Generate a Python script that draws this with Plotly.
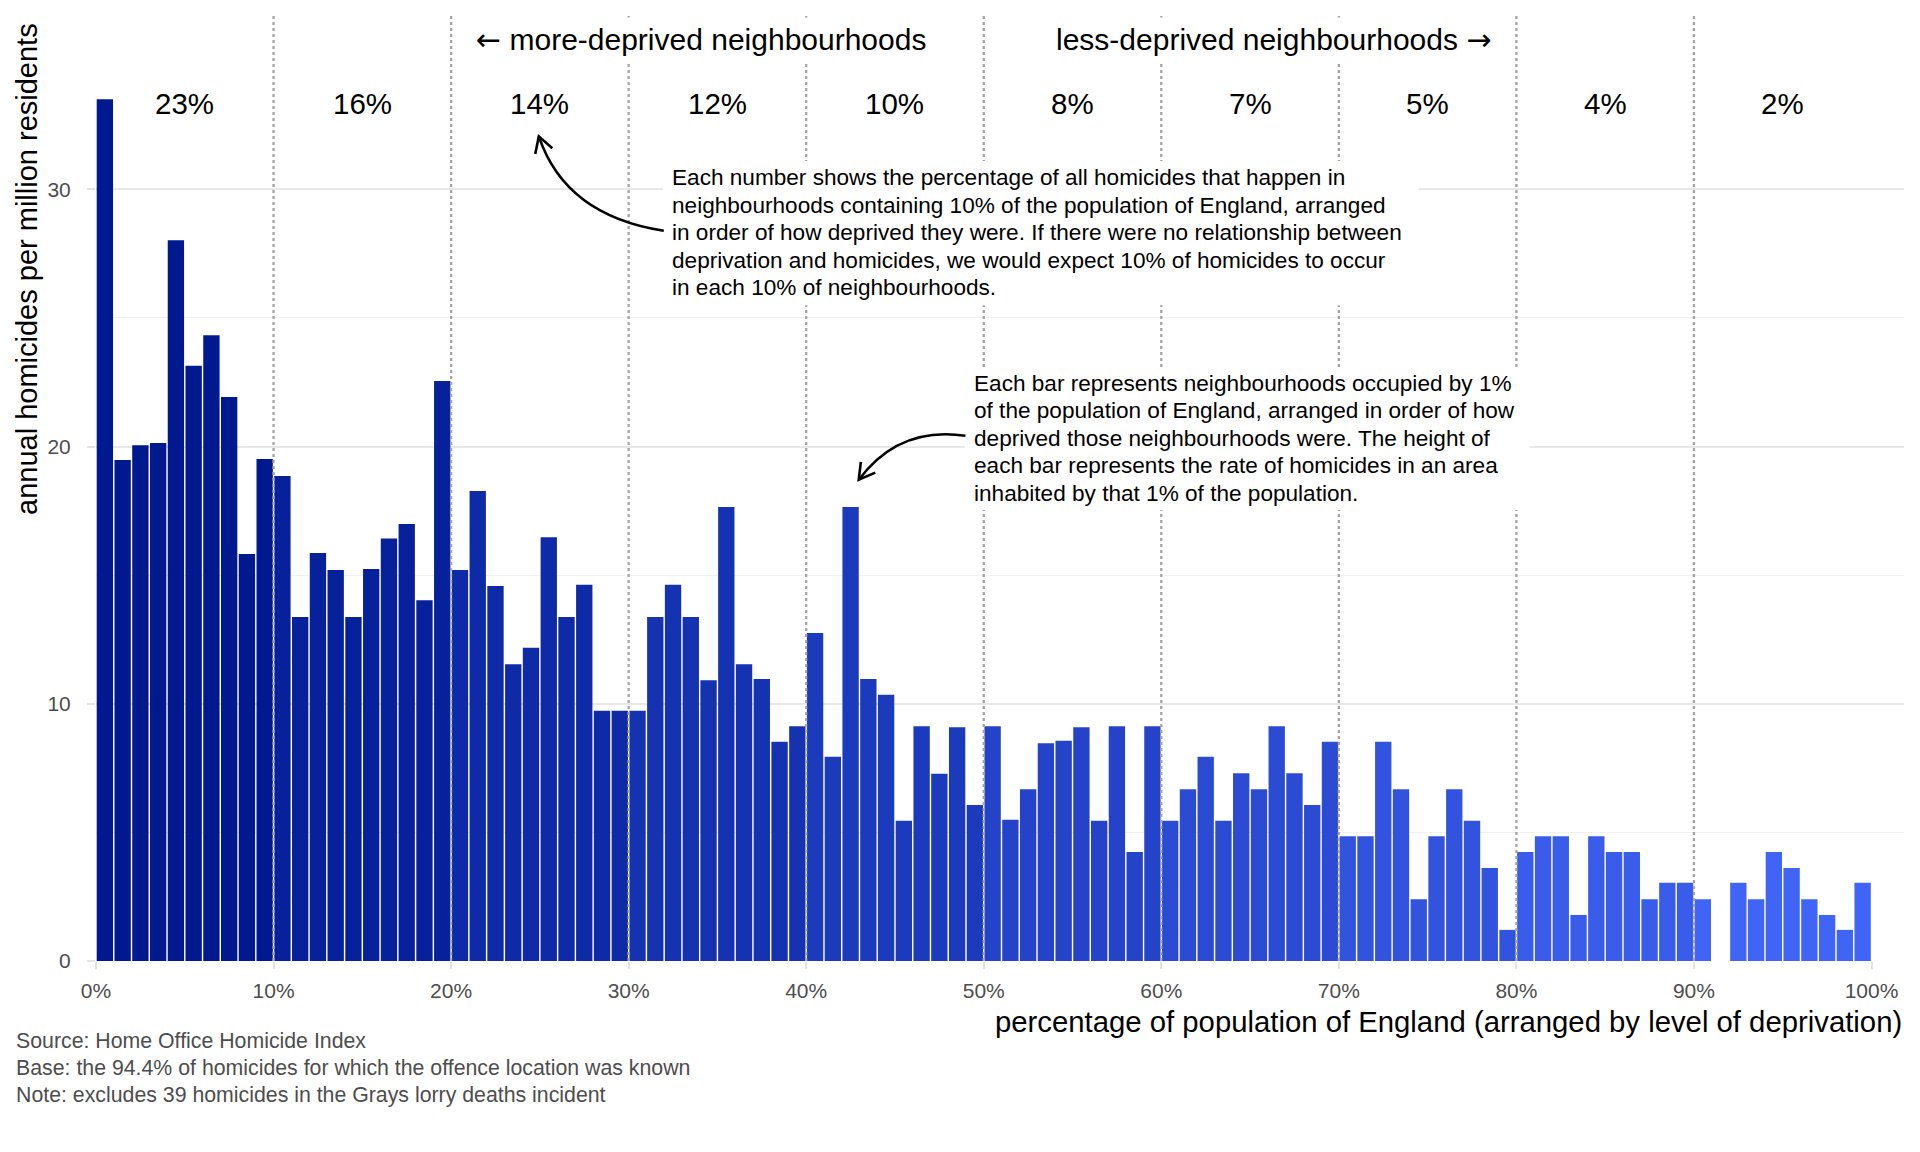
import math
import plotly.graph_objects as go

# ---------------- data ----------------
population_pct = list(range(1, 101))  # each bar = 1% of population, ordered by deprivation
homicide_rate = [
    33.5, 19.48, 20.05, 20.14, 28.02, 23.14, 24.33, 21.93, 15.82, 19.52,
    18.86, 13.37, 15.86, 15.2, 13.37, 15.24, 16.43, 16.99, 14.03, 22.55,
    15.2, 18.27, 14.58, 11.54, 12.18, 16.48, 13.37, 14.63, 9.73, 9.73,
    9.73, 13.37, 14.63, 13.37, 10.92, 17.65, 11.54, 10.96, 8.52, 9.13,
    12.75, 7.94, 17.65, 10.96, 10.35, 5.45, 9.13, 7.28, 9.09, 6.07,
    9.13, 5.49, 6.68, 8.47, 8.56, 9.09, 5.45, 9.13, 4.24, 9.13,
    5.45, 6.68, 7.94, 5.45, 7.3, 6.68, 9.13, 7.3, 6.07, 8.52,
    4.85, 4.85, 8.52, 6.68, 2.40, 4.85, 6.68, 5.45, 3.62, 1.21,
    4.24, 4.85, 4.85, 1.79, 4.85, 4.24, 4.24, 2.40, 3.04, 3.04,
    2.40, 0.0, 3.04, 2.40, 4.24, 3.62, 2.40, 1.79, 1.21, 3.04,
]
decile_upper = [10, 20, 30, 40, 50, 60, 70, 80, 90, 100]
decile_share_pct = [23, 16, 14, 12, 10, 8, 7, 5, 4, 2]
x_tick_vals = [0, 10, 20, 30, 40, 50, 60, 70, 80, 90, 100]
x_tick_text = ["0%", "10%", "20%", "30%", "40%", "50%", "60%", "70%", "80%", "90%", "100%"]
y_tick_vals = [0, 10, 20, 30]
y_minor_vals = [5, 15, 25]

note1_lines = [
    "Each number shows the percentage of all homicides that happen in",
    "neighbourhoods containing 10% of the population of England, arranged",
    "in order of how deprived they were. If there were no relationship between",
    "deprivation and homicides, we would expect 10% of homicides to occur",
    "in each 10% of neighbourhoods.",
]
note2_lines = [
    "Each bar represents neighbourhoods occupied by 1%",
    "of the population of England, arranged in order of how",
    "deprived those neighbourhoods were. The height of",
    "each bar represents the rate of homicides in an area",
    "inhabited by that 1% of the population.",
]
caption_lines = [
    "Source: Home Office Homicide Index",
    "Base: the 94.4% of homicides for which the offence location was known",
    "Note: excludes 39 homicides in the Grays lorry deaths incident",
]

# ---------------- layout geometry ----------------
W, H = 1920, 1152
ML, MR, MT, MB = 96, 16, 15, 191
XMAX, YMAX = 101.83, 36.78
SX = (W - ML - MR) / XMAX   # px per x unit
SY = (H - MT - MB) / YMAX   # px per y unit

FONT = "Liberation Sans, Arial, Helvetica, sans-serif"
ARROW_SPAN = "<span style=\"font-family:'DejaVu Sans'\">{}</span>"

dark = (0, 25, 143)
light = (64, 100, 245)
def decile_color(k):
    t = k / 9
    r, g, b = (round(dark[i] + (light[i] - dark[i]) * t) for i in range(3))
    return f"rgb({r},{g},{b})"
colors = [decile_color((p - 1) // 10) for p in population_pct]

fig = go.Figure()
fig.add_trace(go.Bar(
    x=[p - 0.5 for p in population_pct],
    y=homicide_rate,
    width=0.92,
    marker=dict(color=colors, line=dict(width=0)),
    showlegend=False,
    hoverinfo="skip",
))

shapes = []
# dotted decile separators
for xv in decile_upper[:-1]:
    shapes.append(dict(type="line", xref="x", yref="paper", x0=xv, x1=xv, y0=0, y1=1,
                       line=dict(color="#a4a4a4", width=2.3, dash="3px,3px"), layer="above"))

# white label boxes for the two notes (cover grid and dotted lines)
NOTE1_BOX = (31.93, 74.5, 25.5, 31.1)
NOTE2_BOX = (48.94, 80.77, 17.53, 23.06)
for bx0, bx1, by0, by1 in (NOTE1_BOX, NOTE2_BOX):
    shapes.append(dict(type="rect", xref="x", yref="y", x0=bx0, x1=bx1, y0=by0, y1=by1,
                       fillcolor="white", line=dict(width=0), layer="above"))

# curved arrows (quadratic bezier) + open arrowheads
def curved_arrow(S, C, T, head_len=18, half_angle=30):
    path = f"M{S[0]},{S[1]} Q{C[0]},{C[1]} {T[0]},{T[1]}"
    dx = (T[0] - C[0]) * SX
    dy = (T[1] - C[1]) * SY
    n = math.hypot(dx, dy)
    ux, uy = -dx / n, -dy / n
    wings = []
    for sgn in (1, -1):
        a = math.radians(half_angle) * sgn
        wx = ux * math.cos(a) - uy * math.sin(a)
        wy = ux * math.sin(a) + uy * math.cos(a)
        wings.append((T[0] + wx * head_len / SX, T[1] + wy * head_len / SY))
    head = f"M{wings[0][0]},{wings[0][1]} L{T[0]},{T[1]} L{wings[1][0]},{wings[1][1]}"
    line = dict(color="black", width=2.6)
    return [dict(type="path", xref="x", yref="y", path=path, line=line, layer="above"),
            dict(type="path", xref="x", yref="y", path=head, line=line, layer="above")]

shapes += curved_arrow((31.98, 28.39), (26.44, 28.98), (24.94, 32.06))
shapes += curved_arrow((48.97, 20.42), (45.22, 20.81), (42.96, 18.71))

annotations = []
# decile share labels
for up, share in zip(decile_upper, decile_share_pct):
    annotations.append(dict(x=up - 5, y=33.33, xref="x", yref="y", text=f"{share}%",
                            showarrow=False, font=dict(family=FONT, size=29.5, color="black")))

annotations.append(dict(x=47.05, y=35.82, xref="x", yref="y",
                        text=ARROW_SPAN.format("←") + " more-deprived neighbourhoods",
                        xanchor="right", showarrow=False, bgcolor="white", borderpad=4,
                        font=dict(family=FONT, size=30, color="black")))
annotations.append(dict(x=53.8, y=35.82, xref="x", yref="y",
                        text="less-deprived neighbourhoods " + ARROW_SPAN.format("→"),
                        xanchor="left", showarrow=False, bgcolor="white", borderpad=4,
                        font=dict(family=FONT, size=30, color="black")))

# note texts, one annotation per line
LINE_STEP = 27.55 / SY
for lines, tx, ty0 in ((note1_lines, 32.33, 30.46), (note2_lines, 49.34, 22.46)):
    for k, ln in enumerate(lines):
        annotations.append(dict(x=tx, y=ty0 - k * LINE_STEP, xref="x", yref="y", text=ln,
                                xanchor="left", yanchor="middle", showarrow=False,
                                font=dict(family=FONT, size=22.6, color="black")))

# axis titles
annotations.append(dict(x=(27 - ML) / (W - ML - MR), y=1, xref="paper", yref="paper",
                        text="annual homicides per million residents", textangle=-90,
                        xanchor="center", yanchor="top", yshift=-6, showarrow=False,
                        font=dict(family=FONT, size=29, color="black")))
annotations.append(dict(x=1, y=-(1021 - (H - MB)) / (H - MT - MB), xref="paper", yref="paper",
                        text="percentage of population of England (arranged by level of deprivation)",
                        xanchor="right", yanchor="middle", showarrow=False,
                        font=dict(family=FONT, size=29.3, color="black")))

for k, ln in enumerate(caption_lines):
    annotations.append(dict(x=(14 - ML) / (W - ML - MR),
                            y=-(1041 + 27 * k - (H - MB)) / (H - MT - MB),
                            xref="paper", yref="paper", text=ln,
                            xanchor="left", yanchor="middle", showarrow=False,
                            font=dict(family=FONT, size=21.3, color="#4d4d4d")))

fig.update_layout(
    width=W, height=H,
    margin=dict(l=ML, r=MR, t=MT, b=MB, autoexpand=False),
    paper_bgcolor="white", plot_bgcolor="white",
    shapes=shapes, annotations=annotations,
    font=dict(family=FONT),
    xaxis=dict(range=[0, XMAX], tickmode="array", tickvals=x_tick_vals, ticktext=x_tick_text,
               ticks="outside", ticklen=7, tickwidth=1.5, tickcolor="#e3e3e3",
               showgrid=False, zeroline=False, showline=False, ticklabelstandoff=4,
               tickfont=dict(family=FONT, size=21, color="#4d4d4d")),
    yaxis=dict(range=[0, YMAX], tickmode="array", tickvals=y_tick_vals,
               ticks="outside", ticklen=8, tickwidth=1.5, tickcolor="#e3e3e3",
               showgrid=True, gridcolor="#e8e8e8", gridwidth=1.6,
               minor=dict(tickvals=y_minor_vals, showgrid=True, gridcolor="#f1f1f1", gridwidth=1.1, ticks=""),
               zeroline=False, showline=False, ticklabelstandoff=12,
               tickfont=dict(family=FONT, size=21, color="#4d4d4d")),
)

fig.write_html("out.html")
